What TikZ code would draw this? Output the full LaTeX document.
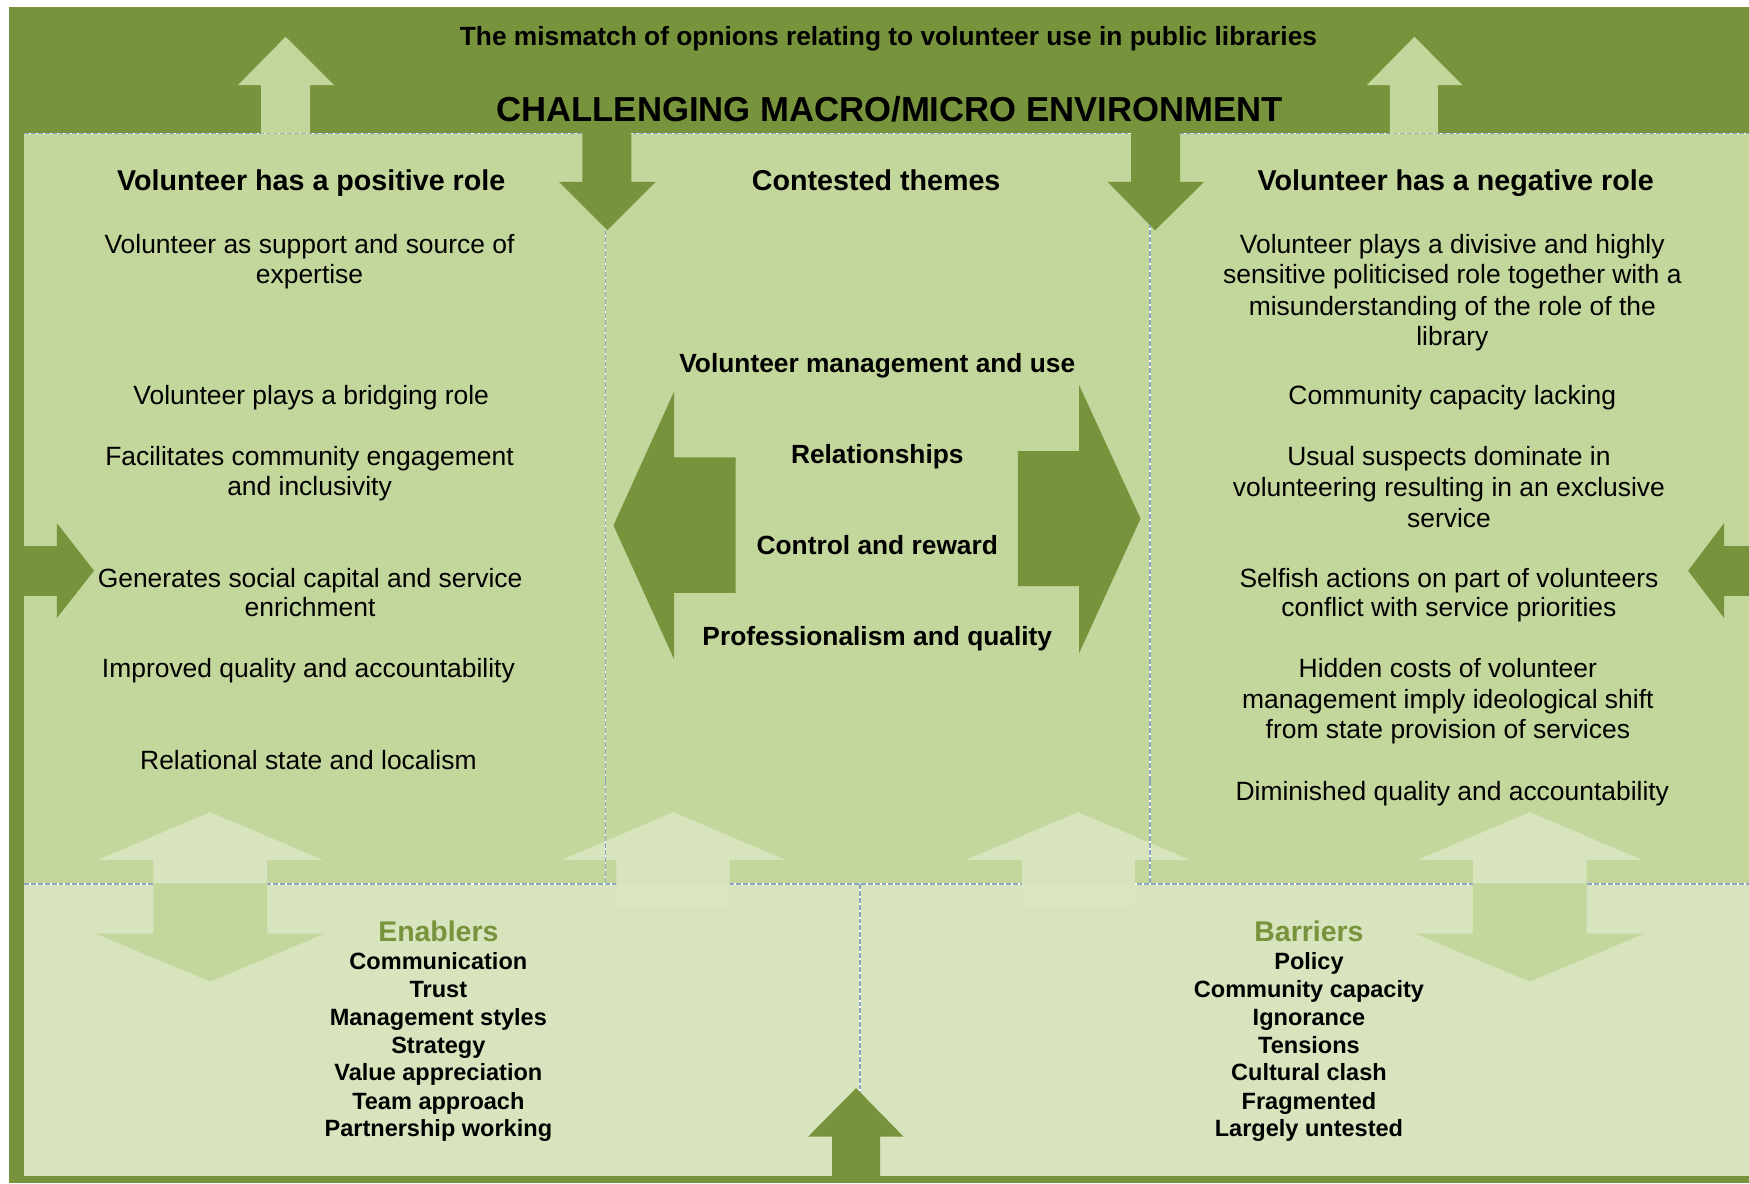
\documentclass[tikz,border=0pt]{standalone}
\usepackage{fontspec}
\setmainfont{Liberation Sans}
\definecolor{dk}{HTML}{77933C}
\definecolor{upc}{HTML}{C3D69B}
\definecolor{loc}{HTML}{D7E4BD}
\definecolor{loc2}{HTML}{DAE6C2}
\definecolor{dotc}{HTML}{8CA5C3}
\tikzset{
  body/.style={font=\fontsize{11.85}{13.6}\selectfont, anchor=base, inner sep=0pt, text=black},
  bodyb/.style={font=\fontsize{11.8}{13.6}\selectfont\bfseries, anchor=base, inner sep=0pt, text=black},
  head/.style={font=\fontsize{12.85}{15}\selectfont\bfseries, anchor=base, inner sep=0pt, text=black},
  big/.style={font=\fontsize{15.55}{18}\selectfont\bfseries, anchor=base, inner sep=0pt, text=black},
  lst/.style={font=\fontsize{10.55}{12.4}\selectfont\bfseries, anchor=base, inner sep=0pt, text=black},
  lhead/.style={font=\fontsize{12.75}{15}\selectfont\bfseries, anchor=base, inner sep=0pt, text=dk},
  dotwhite/.style={draw=white, line width=0.6pt},
  dotline/.style={draw=dotc, line width=0.6pt, dash pattern=on 2.2pt off 0.9pt},
}
\begin{document}
\begin{tikzpicture}[x=0.5pt,y=-0.5pt]
\useasboundingbox (0,0) rectangle (1568,1061);
\fill[white] (0,0) rectangle (1568,1061);
% frame and panels
\fill[dk] (8.4,6.5) rectangle (1568,1061);
\fill[upc] (21.5,119.5) rectangle (1568,792.5);
\fill[loc] (21.5,792.5) rectangle (1568,1054);
% dotted borders
\foreach \s in {dotwhite,dotline}{
  \draw[\s] (21.5,119.5) -- (1568,119.5);
  \draw[\s] (21.5,792.5) -- (1568,792.5);
  \draw[\s] (543,119.5) -- (543,792.5);
  \draw[\s] (1031,119.5) -- (1031,792.5);
  \draw[\s] (771,792.5) -- (771,1054);
}
% light up arrows in the top band
\fill[upc] (256,33) -- (299.4,76.2) -- (278,76.2) -- (278,119.5) -- (234,119.5) -- (234,76.2) -- (213.5,76.2) -- cycle;
\fill[upc] (1268,33) -- (1311,76.2) -- (1289,76.2) -- (1289,119.5) -- (1246,119.5) -- (1246,76.2) -- (1225.5,76.2) -- cycle;
% dark down arrows
\fill[dk] (522,118) -- (566,118) -- (566,163) -- (588,163) -- (544.5,206.5) -- (501,163) -- (522,163) -- cycle;
\fill[dk] (1014,118) -- (1058,118) -- (1058,163) -- (1079.5,163) -- (1035.5,206.5) -- (993,163) -- (1014,163) -- cycle;
% side arrows
\fill[dk] (21,489.5) -- (51,489.5) -- (51,469) -- (84.3,511.7) -- (51,554) -- (51,534.3) -- (21,534.3) -- cycle;
\fill[dk] (1568,489.5) -- (1545.6,489.5) -- (1545.6,469) -- (1513.4,511.7) -- (1545.6,554) -- (1545.6,534.3) -- (1568,534.3) -- cycle;
% central double arrows
\fill[dk] (550,471) -- (604.3,351) -- (604.3,410) -- (659.4,410) -- (659.4,531.4) -- (604.3,531.4) -- (604.3,591) -- cycle;
\fill[dk] (1022.5,465) -- (967.4,345.2) -- (967.4,404.4) -- (912.5,404.4) -- (912.5,525.4) -- (967.4,525.4) -- (967.4,585.7) -- cycle;
% lower region arrows: left and right pairs
\foreach \c in {188.5,1371.5}{
  \fill[loc] (\c,728) -- ({\c+101},771) -- ({\c+51},771) -- ({\c+51},793.5) -- ({\c-51},793.5) -- ({\c-51},771) -- ({\c-101},771) -- cycle;
  \fill[upc] ({\c-51},792) -- ({\c+51},792) -- ({\c+51},837) -- ({\c+102.5},837) -- (\c,880) -- ({\c-102.5},837) -- ({\c-51},837) -- cycle;
}
% middle up arrows
\foreach \c/\l/\r in {603.8/552.5/654, 966.2/916/1017.6}{
  \fill[loc2] (\l,792.5) rectangle (\r,814);
  \fill[loc] (\c,728) -- ({\c+100.5},771) -- (\r,771) -- (\r,793) -- (\l,793) -- (\l,771) -- ({\c-100.5},771) -- cycle;
}
% redraw dividers over the middle up arrows
\foreach \s in {dotwhite,dotline}{
  \draw[\s] (543,700) -- (543,792.5);
  \draw[\s] (1031,700) -- (1031,792.5);
}
% bottom centre up arrow
\fill[dk] (767.5,975.5) -- (810,1019) -- (789,1019) -- (789,1055) -- (746,1055) -- (746,1019) -- (724.5,1019) -- cycle;

% texts
\node[bodyb] (title) at (796.5,40.5) {The mismatch of opnions relating to volunteer use in public libraries};
\node[big] (env) at (797.5,109) {CHALLENGING MACRO/MICRO ENVIRONMENT};
\node[head] (hpos) at (279,171) {Volunteer has a positive role};
\node[head] (hcon) at (785.5,171) {Contested themes};
\node[head] (hneg) at (1305,171) {Volunteer has a negative role};
% left column
\node[body] (p1a) at (277.5,227.5) {Volunteer as support and source of};
\node[body] (p1b) at (277.5,254.5) {expertise};
\node[body] (p2) at (279,362.5) {Volunteer plays a bridging role};
\node[body] (p3a) at (277.5,417.5) {Facilitates community engagement};
\node[body] (p3b) at (277.5,444.5) {and inclusivity};
\node[body] (p4a) at (278,526.5) {Generates social capital and service};
\node[body] (p4b) at (278,552.5) {enrichment};
\node[body] (p5) at (276.5,607.5) {Improved quality and accountability};
\node[body] (p6) at (276.5,689.5) {Relational state and localism};
% centre column
\node[bodyb] (c1) at (786.5,333.5) {Volunteer management and use};
\node[bodyb] (c2) at (786.5,415.5) {Relationships};
\node[bodyb] (c3) at (786.5,497.5) {Control and reward};
\node[bodyb] (c4) at (786.5,578.5) {Professionalism and quality};
% right column
\node[body] (n1a) at (1302,227.5) {Volunteer plays a divisive and highly};
\node[body] (n1b) at (1302,254.5) {sensitive politicised role together with a};
\node[body] (n1c) at (1302,282.5) {misunderstanding of the role of the};
\node[body] (n1d) at (1302,309.5) {library};
\node[body] (n2) at (1302,362.5) {Community capacity lacking};
\node[body] (n3a) at (1299,417.5) {Usual suspects dominate in};
\node[body] (n3b) at (1299,445.5) {volunteering resulting in an exclusive};
\node[body] (n3c) at (1299,472.5) {service};
\node[body] (n4a) at (1299,526.5) {Selfish actions on part of volunteers};
\node[body] (n4b) at (1299,552.5) {conflict with service priorities};
\node[body] (n5a) at (1298,607.5) {Hidden costs of volunteer};
\node[body] (n5b) at (1298,635.5) {management imply ideological shift};
\node[body] (n5c) at (1298,662.5) {from state provision of services};
\node[body] (n6) at (1302,717.5) {Diminished quality and accountability};
% enablers
\node[lhead] (en) at (393,844) {Enablers};
\node[lst] (e1) at (393,869.6) {Communication};
\node[lst] (e2) at (393,894.6) {Trust};
\node[lst] (e3) at (393,919.6) {Management styles};
\node[lst] (e4) at (393,944.6) {Strategy};
\node[lst] (e5) at (393,968.6) {Value appreciation};
\node[lst] (e6) at (393,994.6) {Team approach};
\node[lst] (e7) at (393,1018.6) {Partnership working};
% barriers
\node[lhead] (ba) at (1173.5,844) {Barriers};
\node[lst] (b1) at (1173.5,869.6) {Policy};
\node[lst] (b2) at (1173.5,894.6) {Community capacity};
\node[lst] (b3) at (1173.5,919.6) {Ignorance};
\node[lst] (b4) at (1173.5,944.6) {Tensions};
\node[lst] (b5) at (1173.5,968.6) {Cultural clash};
\node[lst] (b6) at (1173.5,994.6) {Fragmented};
\node[lst] (b7) at (1173.5,1018.6) {Largely untested};
\end{tikzpicture}
\end{document}
